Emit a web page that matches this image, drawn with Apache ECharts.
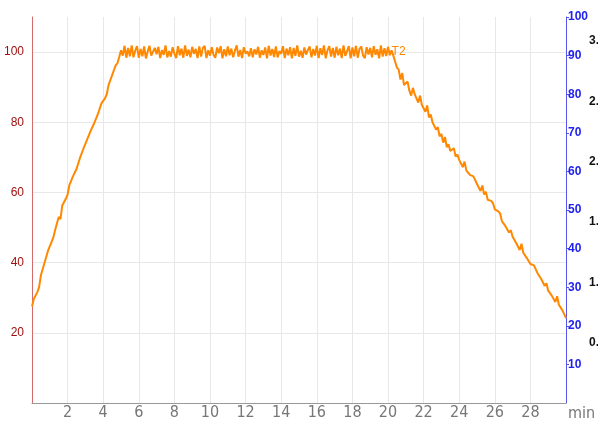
<!DOCTYPE html>
<html>
	<head>
		<meta charset="utf-8" />
		<title></title>
		<script type="text/javascript" src="https://cdn.jsdelivr.net/npm/echarts@6/dist/echarts.min.js"></script>
	</head>
	<body style="margin:0">
		<div id="main" style="width: 598px;height: 421px;"></div>
		<script type="text/javascript">
    // temperature samples, one every 0.1 min
    var sampleStep = 0.1;
    // heating: 0.0 .. 5.0 min
    var riseTemp = [27.5,29.6,29.8,31.6,33.0,36.4,36.6,39.9,40.1,43.4,
      43.6,45.9,47.2,49.3,49.6,53.0,52.4,56.3,56.6,58.2,
      59.4,62.1,61.8,64.6,64.8,66.7,67.2,69.9,69.6,72.6,
      72.3,75.1,74.8,77.6,78.0,79.8,79.6,82.3,82.5,85.4,
      85.2,86.8,88.0,90.6,90.8,93.4,93.6,96.2,96.8,98.6,
      100.5];
    // holding: 5.1 .. 20.2 min
    var holdTemp = [99.0,101.8,98.4,101.2,98.8,101.9,98.5,100.4,101.7,98.4,
      100.9,98.8,101.6,98.2,100.2,101.8,99.0,98.5,101.2,99.4,
      101.5,98.3,100.6,99.2,101.9,98.5,100.3,98.7,101.4,99.6,
      98.3,101.7,99.1,101.0,98.4,101.9,98.9,100.7,98.5,101.5,
      99.5,100.9,98.3,101.6,98.7,101.2,101.8,98.3,100.5,99.0,
      101.4,99.2,98.4,101.3,99.7,101.7,98.2,100.8,98.8,101.6,
      99.1,101.0,98.5,100.4,101.9,98.7,100.6,98.3,101.4,99.6,
      100.2,98.8,101.1,98.5,100.8,99.3,101.5,98.4,100.5,99.2,
      101.3,98.2,101.8,99.0,100.9,98.6,101.6,98.5,100.3,99.5,
      101.7,98.3,101.0,99.1,101.4,98.2,101.2,98.9,101.9,98.7,
      100.4,98.4,101.3,99.3,100.6,101.6,98.5,100.9,99.0,101.8,
      98.3,101.1,99.2,101.9,98.2,100.5,101.7,98.7,101.2,98.4,
      101.5,99.1,101.0,98.3,101.9,98.9,100.3,101.7,98.2,101.3,
      98.8,101.8,98.4,100.9,101.6,99.0,98.3,101.4,99.3,101.2,
      98.5,101.7,99.2,100.8,98.2,101.9,98.7,101.1,98.9,101.5,
      99.1,100.5];
    // cooling: 20.3 .. 30.0 min
    var coolTemp = [99.0,98.6,95.6,95.0,92.2,94.0,90.6,90.8,91.6,89.0,
      87.6,89.8,88.0,87.6,85.6,87.6,85.0,85.4,83.0,84.8,
      81.4,82.2,80.0,80.4,77.9,78.6,76.0,76.7,74.2,75.8,
      72.9,73.7,71.8,71.8,72.6,70.2,70.8,69.3,69.6,67.2,
      68.8,66.3,66.6,65.0,65.4,64.6,64.2,62.4,62.8,60.4,
      62.0,59.4,60.2,57.9,58.4,57.6,56.9,55.2,55.5,54.6,
      54.0,51.8,52.2,50.4,50.4,48.6,49.2,47.4,47.6,45.6,
      46.1,43.6,45.4,42.8,43.2,41.3,41.6,39.6,40.1,39.2,
      38.9,37.0,37.4,35.4,35.8,33.4,34.1,32.0,32.4,30.6,
      31.1,28.8,30.4,28.0,28.0,26.4,26.4,24.2];
    var labelPoint = [20.2, 100];

    var temps = riseTemp.concat(holdTemp, coolTemp);
    var seriesData = temps.map(function (v, i) {
      return [Math.round(i * sampleStep * 10) / 10, v];
    });

    var xFont = "'DejaVu Sans Condensed', 'Liberation Sans Narrow', 'DejaVu Sans', sans-serif";

    var myChart = echarts.init(document.getElementById('main'));
    var option = {
      animation: false,
      grid: { left: 32, right: 32, top: 17, bottom: 18, outerBoundsMode: 'none', containLabel: false },
      xAxis: {
        type: 'value', min: 0, max: 30, interval: 2,
        name: 'min', nameLocation: 'end', nameGap: 2,
        nameTextStyle: { color: '#777', fontFamily: xFont, fontSize: 16, verticalAlign: 'top', padding: [3, 0, 0, 0] },
        axisLine: { lineStyle: { color: '#999' } },
        axisTick: { show: false },
        axisLabel: { color: '#777', fontFamily: xFont, fontSize: 16, margin: 2, showMinLabel: false, showMaxLabel: false },
        splitLine: { show: true, lineStyle: { color: '#e8e8e8' } }
      },
      yAxis: [
        {
          type: 'value', min: 0, max: 110, interval: 20, position: 'left',
          axisLine: { show: true, lineStyle: { color: '#d46a6a' } },
          axisTick: { show: false },
          axisLabel: { color: '#a01010', fontSize: 12, showMinLabel: false, showMaxLabel: false },
          splitLine: { lineStyle: { color: '#e8e8e8' }, showMinLine: false, showMaxLine: false }
        },
        {
          type: 'value', min: 0, max: 100, interval: 10, position: 'right',
          axisLine: { show: true, lineStyle: { color: '#5555ee' } },
          axisTick: { show: true, length: 3, lineStyle: { color: '#5555ee' } },
          axisLabel: { color: '#2222ee', fontSize: 12, fontWeight: 'bold', margin: 2, showMinLabel: false },
          splitLine: { show: false }
        },
        {
          type: 'value', min: 0, max: 3.2, interval: 0.5, position: 'right', offset: 15,
          axisLine: { show: false },
          axisTick: { show: false },
          axisLabel: { color: '#111', fontSize: 12, fontWeight: 'bold', showMinLabel: false, showMaxLabel: false,
            formatter: function (v) { return v.toFixed(1); } },
          splitLine: { show: false }
        }
      ],
      series: [
        {
          name: 'T2',
          type: 'line',
          yAxisIndex: 0,
          data: seriesData,
          showSymbol: false,
          lineStyle: { color: '#ff8800', width: 2 },
          itemStyle: { color: '#ff8800' },
          markPoint: {
            symbol: 'circle', symbolSize: 0,
            label: { show: true, position: 'right', distance: 0, formatter: 'T2', color: '#ff8800', fontSize: 12 },
            data: [{ coord: labelPoint }]
          }
        }
      ]
    };
    myChart.setOption(option);
	</script>
	</body>

</html>
